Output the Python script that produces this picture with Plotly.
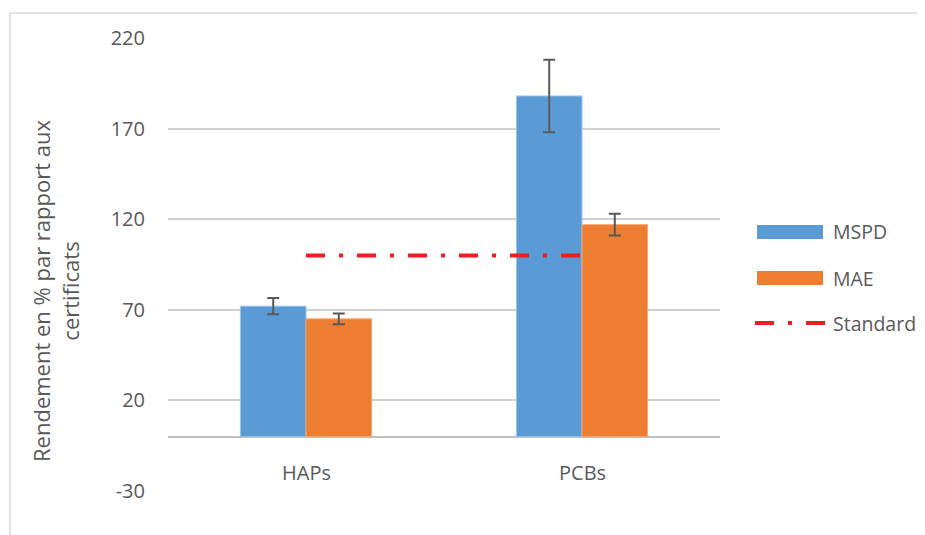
import plotly.graph_objects as go

categories = ["HAPs", "PCBs"]
mspd = [72, 188]
mspd_err = [4.5, 20]
mae = [65, 117]
mae_err = [3, 6]
standard = [100, 100]
y_ticks = [-30, 20, 70, 120, 170, 220]

TXT = "#595959"
FONT = "Open Sans"

fig = go.Figure()
fig.add_trace(go.Bar(
    x=categories, y=mspd, name="MSPD", marker=dict(color="#5B9BD5", line=dict(color="#9cc3e8", width=1)),
    error_y=dict(type="data", array=mspd_err, color="#595959", thickness=2, width=6),
    showlegend=False))
fig.add_trace(go.Bar(
    x=categories, y=mae, name="MAE", marker=dict(color="#ED7D31", line=dict(color="#f3a874", width=1)),
    error_y=dict(type="data", array=mae_err, color="#595959", thickness=2, width=6),
    showlegend=False))
fig.add_trace(go.Scatter(
    x=categories, y=standard, name="Standard", mode="lines",
    line=dict(color="#EE1C25", width=4, dash="19px,14px,4px,14px"),
    showlegend=False))

# page body has an 8px margin; coordinates below are in screenshot pixels
OFF = 8
W, H = 925 - OFF, 535 - OFF
PL, PR, PT, PB = 168, 720, 38, 491  # plot area in screenshot pixels
L, T = PL - OFF, PT - OFF
R, B = W - (PR - OFF), H - (PB - OFF)
pw, ph = PR - PL, PB - PT

def px(x):
    return (x - PL) / pw

def py(y):
    return (PB - y) / ph

shapes = [
    dict(type="rect", xref="paper", yref="paper", x0=px(10), x1=px(940), y0=py(13), y1=py(550),
         line=dict(color="#d9d9d9", width=1.5), fillcolor="rgba(0,0,0,0)", layer="below"),
    dict(type="rect", xref="paper", yref="paper", x0=px(757), x1=px(823), y0=py(225), y1=py(239),
         line=dict(width=0), fillcolor="#5B9BD5"),
    dict(type="rect", xref="paper", yref="paper", x0=px(757), x1=px(823), y0=py(271), y1=py(285),
         line=dict(width=0), fillcolor="#ED7D31"),
    dict(type="line", xref="paper", yref="paper", x0=px(755), x1=px(825), y0=py(323), y1=py(323),
         line=dict(color="#EE1C25", width=4, dash="19px,14px,4px,14px")),
]

LEG_FONT = dict(size=19.5, color=TXT, family=FONT)
annotations = [
    dict(xref="paper", yref="paper", x=px(831), y=py(232), text="MSPD", showarrow=False,
         xanchor="left", yanchor="middle", font=LEG_FONT),
    dict(xref="paper", yref="paper", x=px(831), y=py(278), text="MAE", showarrow=False,
         xanchor="left", yanchor="middle", font=LEG_FONT),
    dict(xref="paper", yref="paper", x=px(831), y=py(323), text="Standard", showarrow=False,
         xanchor="left", yanchor="middle", font=LEG_FONT),
    dict(xref="paper", yref="paper", x=px(55), y=py(291), text="Rendement en % par rapport aux<br>certificats",
         showarrow=False, textangle=-90, xanchor="center", yanchor="middle",
         font=dict(size=22, color=TXT, family=FONT)),
]
for c in categories:
    annotations.append(dict(x=c, y=-20, xref="x", yref="y", text=c, showarrow=False,
                            xanchor="center", yanchor="middle",
                            font=dict(size=20, color=TXT, family=FONT)))

fig.update_layout(
    width=W, height=H,
    margin=dict(l=L, r=R, t=T, b=B),
    paper_bgcolor="white", plot_bgcolor="white",
    barmode="group", bargap=0.525, bargroupgap=0,
    showlegend=False,
    shapes=shapes, annotations=annotations,
    xaxis=dict(range=[-0.5, 1.5], showticklabels=False, showgrid=False, zeroline=False,
               showline=False, ticks=""),
    yaxis=dict(range=[-30, 220], tickvals=y_ticks, ticktext=[str(v) for v in y_ticks],
               showgrid=True, gridcolor="#d0d0d0", gridwidth=2,
               zeroline=True, zerolinecolor="#c0c0c0", zerolinewidth=2,
               showline=False, ticks="", ticklabelstandoff=22,
               tickfont=dict(size=20, color=TXT, family=FONT)),
    font=dict(family=FONT, color=TXT),
)

fig.write_html("out.html")
